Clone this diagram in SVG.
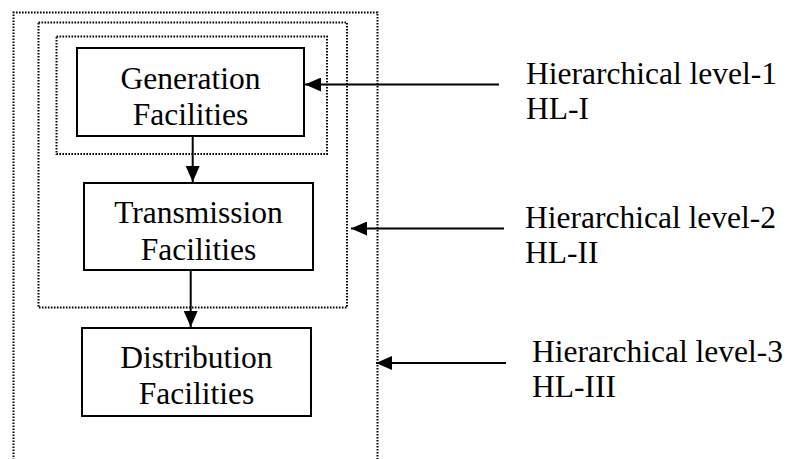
<svg xmlns="http://www.w3.org/2000/svg" width="788" height="459" viewBox="0 0 788 459">
<style>
  .dot { fill: none; stroke: #000; stroke-width: 2; stroke-dasharray: 1.6 1.4; }
  .box { fill: #fff; stroke: #000; stroke-width: 2; }
  .t { font-family: "Liberation Serif", "Times New Roman", serif; font-size: 31.5px; fill: #000; }
  .c { text-anchor: middle; }
  .ln { stroke: #000; stroke-width: 2; fill: none; marker-end: url(#ah); }
</style>
<defs>
  <marker id="ah" markerUnits="userSpaceOnUse" markerWidth="16" markerHeight="14" refX="16" refY="7" orient="auto">
    <path d="M0,0 L16,7 L0,14 z" fill="#000"/>
  </marker>
</defs>
<rect width="788" height="459" fill="#fff"/>
<g id="levels">
  <path id="hl3-box" class="dot" d="M13.5,460 V12.5 H377.5 V460"/>
  <rect id="hl2-box" class="dot" x="38.5" y="22.5" width="308.5" height="285"/>
  <rect id="hl1-box" class="dot" x="56.5" y="36.5" width="270.5" height="117.5"/>
</g>
<g id="generation">
  <rect class="box" x="77" y="48" width="227" height="88"/>
  <text class="t c" x="190.5" y="89">Generation</text>
  <text class="t c" x="190.5" y="125">Facilities</text>
</g>
<g id="transmission">
  <rect class="box" x="84" y="183" width="229" height="87"/>
  <text class="t c" x="198.5" y="223">Transmission</text>
  <text class="t c" x="198.5" y="260">Facilities</text>
</g>
<g id="distribution">
  <rect class="box" x="82" y="328" width="229" height="88"/>
  <text class="t c" x="196.5" y="368">Distribution</text>
  <text class="t c" x="196.5" y="404">Facilities</text>
</g>
<g id="connectors">
  <line class="ln" x1="192.7" y1="137" x2="192.7" y2="182"/>
  <line class="ln" x1="190.7" y1="271" x2="190.7" y2="327"/>
  <line class="ln" x1="499" y1="84.5" x2="305" y2="84.5"/>
  <line class="ln" x1="504" y1="228.5" x2="351" y2="228.5"/>
  <line class="ln" x1="506" y1="363" x2="376" y2="363"/>
</g>
<g id="labels">
  <text class="t" x="526" y="84">Hierarchical level-1</text>
  <text class="t" x="526" y="119">HL-I</text>
  <text class="t" x="525" y="228">Hierarchical level-2</text>
  <text class="t" x="525" y="263">HL-II</text>
  <text class="t" x="532" y="362">Hierarchical level-3</text>
  <text class="t" x="532" y="397">HL-III</text>
</g>
</svg>
